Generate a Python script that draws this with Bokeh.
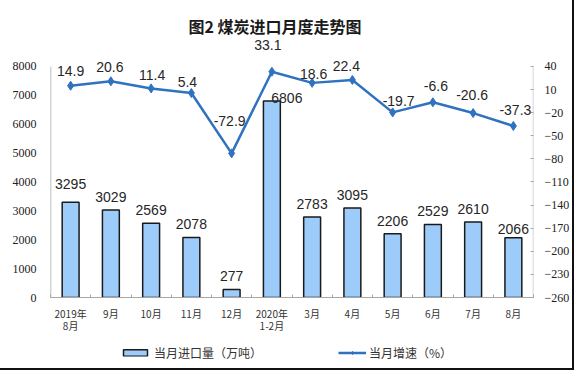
from bokeh.plotting import figure
from bokeh.layouts import column
from bokeh.models import (Range1d, LinearAxis, FixedTicker, ColumnDataSource,
                          LabelSet, Legend, LegendItem, Title)
from bokeh.core.properties import value
from bokeh.embed import file_html
from bokeh.resources import INLINE

# ---- data ----
months = ["2019年\n8月", "9月", "10月", "11月", "12月", "2020年\n1-2月",
          "3月", "4月", "5月", "6月", "7月", "8月"]
imports = [3295, 3029, 2569, 2078, 277, 6806, 2783, 3095, 2206, 2529, 2610, 2066]
growth = [14.9, 20.6, 11.4, 5.4, -72.9, 33.1, 18.6, 22.4, -19.7, -6.6, -20.6, -37.3]
left_ticks = [0, 1000, 2000, 3000, 4000, 5000, 6000, 7000, 8000]
right_ticks = [-260, -230, -200, -170, -140, -110, -80, -50, -20, 10, 40]

# ---- label nudges (pixels) ----
imp_dx = [0, 0, 0, 0, 0, 15, 0, 0, 0, 0, 0, 0]
imp_dy = [18, 13, 13, 13, 13, 3, 13, 13, 13, 13, 13, 9]
gr_dx = [0, -1, 1, -4, -2, -4, 1.5, -6, 6, 3, -1, 2]
gr_dy = [15, 14.5, 13, 11, 32, 27, 8.5, 14, 11, 16, 18, 16]

# ---- layout constants ----
W = 572
H_MAIN, H_LEG = 336, 32
BL, BR, BT, BB = 50, 38, 37, 38
FRAME_H = H_MAIN - BT - BB   # includes room above the axes for labels
AXIS_H = 232                 # pixel height spanned by the value axes

n = len(months)
xc = [i + 0.5 for i in range(n)]

lmin, lmax = min(left_ticks), max(left_ticks)
rmin, rmax = min(right_ticks), max(right_ticks)
l_top = lmin + (lmax - lmin) * FRAME_H / AXIS_H
r_top = rmin + (rmax - rmin) * FRAME_H / AXIS_H

src = ColumnDataSource(dict(
    x=xc, imports=imports, growth=growth,
    imp_text=[str(v) for v in imports], gr_text=[str(v) for v in growth],
    imp_dx=imp_dx, imp_dy=imp_dy, gr_dx=gr_dx, gr_dy=gr_dy,
))

p = figure(width=W, height=H_MAIN, min_border_left=BL, min_border_right=BR,
           min_border_top=BT, min_border_bottom=BB,
           x_range=Range1d(0, n), y_range=Range1d(lmin, l_top),
           output_backend="svg", toolbar_location=None, tools="")
p.extra_y_ranges = {"right": Range1d(rmin, r_top)}

p.xgrid.visible = False
p.ygrid.visible = False
p.outline_line_color = None
p.background_fill_color = "white"
p.border_fill_color = "white"

axis_gray = "#a6a6a6"
tick_font = "Liberation Serif"
bar_fill, bar_line = "#9dcbfa", "#1a1a1a"
line_color = "#2f72c0"

# title
p.add_layout(Title(text="图2  煤炭进口月度走势图", align="left", offset=138, standoff=0,
                   text_font="Noto Sans CJK SC", text_font_size="16px",
                   text_font_style="bold", text_color="#1a1a1a"), "above")

# bottom axis
xa = p.xaxis[0]
xa.ticker = FixedTicker(ticks=xc, minor_ticks=list(range(n + 1)))
xa.major_label_overrides = {x: m for x, m in zip(xc, months)}
xa.major_tick_in = 0
xa.major_tick_out = 0
xa.minor_tick_in = 3
xa.minor_tick_out = 0
xa.minor_tick_line_color = axis_gray
xa.axis_line_color = axis_gray
xa.major_label_standoff = 8
xa.major_label_text_font = "Noto Sans CJK SC"
xa.major_label_text_font_size = "10px"
xa.major_label_text_color = "#333333"
xa.major_label_text_line_height = 0.85

# left axis
ya = p.yaxis[0]
ya.ticker = FixedTicker(ticks=left_ticks)
ya.major_tick_in = 0
ya.major_tick_out = 0
ya.minor_tick_line_color = None
ya.axis_line_color = None
ya.major_label_standoff = 14
ya.major_label_text_font = tick_font
ya.major_label_text_font_size = "12px"
ya.major_label_text_color = "#222222"

# right axis
ra = LinearAxis(y_range_name="right", ticker=FixedTicker(ticks=right_ticks))
ra.major_tick_in = 3
ra.major_tick_out = 0
ra.major_tick_line_color = axis_gray
ra.minor_tick_line_color = None
ra.axis_line_color = None
ra.major_label_standoff = 11
ra.major_label_text_font = tick_font
ra.major_label_text_font_size = "12px"
ra.major_label_text_color = "#222222"
p.add_layout(ra, "right")

# axis lines limited to the tick span
p.segment(x0=[0], y0=[lmin], x1=[0], y1=[lmax], line_color=axis_gray, line_width=1.5)
p.segment(x0=[n], y0=[rmin], x1=[n], y1=[rmax], y_range_name="right",
          line_color="#c8c8c8", line_width=1.5)

# bars
bars = p.vbar(x="x", top="imports", width=0.42, source=src,
              fill_color=bar_fill, line_color=bar_line, line_width=1.5)

# line + markers
ln = p.line(x="x", y="growth", y_range_name="right", source=src,
            line_color=line_color, line_width=2.5)
mk = p.scatter(x="x", y="growth", y_range_name="right", source=src,
               marker="diamond", size=9, fill_color=line_color, line_color=line_color)

lab_font = value("Liberation Sans")
p.add_layout(LabelSet(x="x", y="imports", text="imp_text", source=src,
                      x_offset="imp_dx", y_offset="imp_dy",
                      text_align="center", text_baseline="middle",
                      text_font=lab_font, text_font_size="14px", text_color="#262626"))
p.add_layout(LabelSet(x="x", y="growth", y_range_name="right", text="gr_text", source=src,
                      x_offset="gr_dx", y_offset="gr_dy",
                      text_align="center", text_baseline="middle",
                      text_font=lab_font, text_font_size="14px", text_color="#262626"))

# ---- legend strip below the chart (legend-only swatches, nothing plotted) ----
lf = figure(width=W, height=H_LEG, x_range=Range1d(0, 1), y_range=Range1d(0, 1),
            min_border=0, x_axis_location=None, y_axis_location=None,
            output_backend="svg", toolbar_location=None, tools="")
lf.grid.visible = False
lf.outline_line_color = None
lf.background_fill_color = "white"
lf.border_fill_color = "white"
nan = float("nan")
lb = lf.vbar(x=[nan], top=[nan], width=0.1,
             fill_color=bar_fill, line_color=bar_line, line_width=1.5)
ll = lf.line(x=[nan], y=[nan], line_color=line_color, line_width=2.5)
lm = lf.scatter(x=[nan], y=[nan], marker="diamond", size=9,
                fill_color=line_color, line_color=line_color)

leg_style = dict(orientation="horizontal", location="center_left", padding=0,
                 glyph_height=8, label_height=12, border_line_alpha=0,
                 background_fill_alpha=0, label_text_font="Noto Sans CJK SC",
                 label_text_font_size="12px", label_text_color="#333333")
lg1 = Legend(items=[LegendItem(label="当月进口量（万吨）", renderers=[lb])],
             margin=70, glyph_width=30, label_standoff=4, **leg_style)
lg2 = Legend(items=[LegendItem(label="当月增速（%）", renderers=[ll, lm])],
             margin=288, glyph_width=28, label_standoff=3, **leg_style)
lf.add_layout(lg1)
lf.add_layout(lg2)

layout = column(p, lf, spacing=0)
layout.styles = {"border-right": "2px solid #111", "border-bottom": "2px solid #111"}

open("out.html", "w").write(file_html(layout, INLINE))
